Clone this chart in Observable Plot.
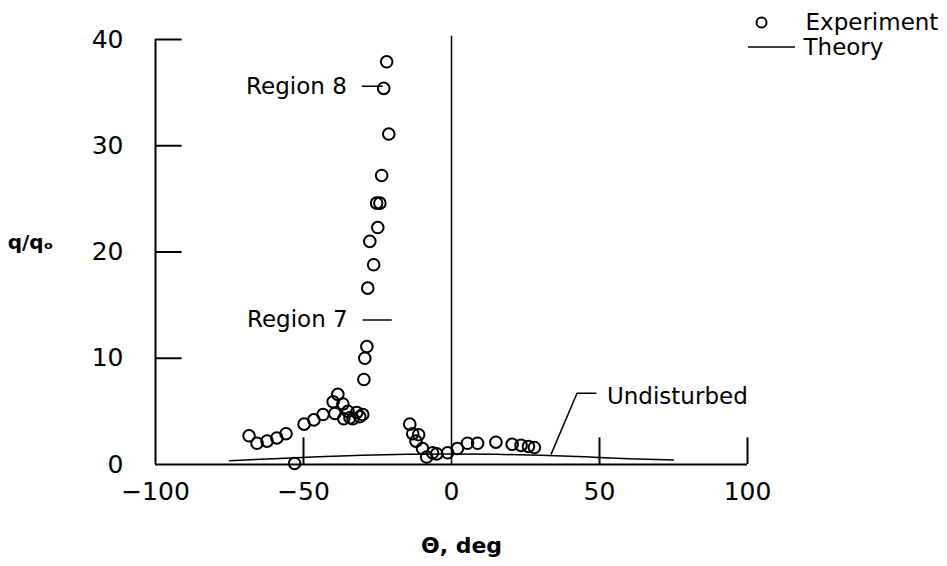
<!DOCTYPE html>
<html><head><meta charset="utf-8">
<script src="https://cdn.jsdelivr.net/npm/d3@7"></script>
<script src="https://cdn.jsdelivr.net/npm/@observablehq/plot@0.6"></script>
<style>body{margin:0;background:#fff}</style>
</head><body><div id="chart"></div>
<script>
// Experiment (open circles): theta (deg), q/qo
const expTheta = [-68.4,-65.7,-62.3,-59.0,-55.9,-53.0,-49.8,-46.5,-43.4,-40.0,-38.4,-39.4,-36.7,-36.4,-35.0,-34.3,-33.3,-32.0,-31.0,-30.0,-29.6,-29.3,-28.6,-28.3,-26.3,-27.6,-24.9,-25.3,-24.2,-23.6,-21.2,-22.9,-21.9,-14.1,-13.1,-11.1,-12.0,-9.8,-8.4,-6.4,-5.0,-1.3,2.0,5.4,8.8,15.0,20.5,23.5,26.0,28.0];
const expQ     = [2.7,2.0,2.2,2.5,2.9,0.1,3.8,4.2,4.7,5.9,6.6,4.8,5.7,4.3,5.0,4.4,4.3,4.9,4.5,4.7,8.0,10.0,11.1,16.6,18.8,21.0,22.3,24.6,24.6,27.2,31.1,35.4,37.9,3.8,2.9,2.8,2.2,1.5,0.7,1.1,1.0,1.1,1.5,2.0,2.0,2.1,1.9,1.8,1.7,1.6];
// Theory (solid line)
const theoryTheta = [-75,-60,-45,-30,-15,0,15,30,45,60,75];
const theoryQ     = [0.35,0.55,0.72,0.86,0.96,1.0,0.96,0.86,0.72,0.55,0.42];
// Axis ticks
const xTicks = [-100,-50,0,50,100];
const yTicks = [0,10,20,30,40];
// Annotations
const regionLabels = ["Region 8","Region 7"];
const regionQ = [35.6,13.6];
const regionTheta1 = [-30.3,-30.0];
const regionTheta2 = [-23.2,-20.2];
const undistTheta = [33.7,42.4,48.8];
const undistQ = [1.0,6.7,6.7];

const F = "DejaVu Sans, sans-serif";
const expData = expTheta.map((t,i)=>({t, q: expQ[i]}));
const theoryData = theoryTheta.map((t,i)=>({t, q: theoryQ[i]}));
const regions = regionLabels.map((s,i)=>({s, q: regionQ[i], t1: regionTheta1[i], t2: regionTheta2[i]}));
const undist = undistTheta.map((t,i)=>({t, q: undistQ[i]}));
const tickLen = 9;      // in theta units (y-axis inward ticks)
const upTick = 2.5;     // in q units (x-axis upward ticks)
const fmt = d => d < 0 ? "\u2212" + Math.abs(d) : String(d);

const chart = Plot.plot({
  width: 947, height: 566,
  marginLeft: 155, marginRight: 200, marginTop: 39, marginBottom: 102,
  x: {domain: [-100,100]},
  y: {domain: [0,40]},
  axis: null,
  style: {background: "#fff", color: "#000", fontFamily: F},
  marks: [
    // frame
    Plot.ruleX([-100], {y1: 0, y2: 40, strokeWidth: 2}),
    Plot.ruleY([0], {x1: -100, x2: 100, strokeWidth: 2}),
    Plot.ruleX([0], {y1: 0, y2: 40.3, strokeWidth: 1.5}),
    Plot.ruleY(yTicks.filter(d=>d>0), {y: d=>d, x1: -100, x2: -100 + tickLen, strokeWidth: 2}),
    Plot.ruleX(xTicks.filter(d=>d!==0 && d!==-100), {x: d=>d, y1: 0, y2: upTick, strokeWidth: 2}),
    // tick labels
    Plot.text(yTicks, {x: -100, y: d=>d, text: fmt, dx: -32, textAnchor: "end", fontSize: 25, fontFamily: F, letterSpacing: 3}),
    Plot.text(xTicks, {x: d=>d, y: 0, text: fmt, dy: 27, fontSize: 25, fontFamily: F, letterSpacing: 3}),
    // axis titles
    Plot.text(["q/q\u2092"], {frameAnchor: "left", lineAnchor: "middle", dx: -125, dy: -9, fontSize: 20, fontWeight: "bold", fontFamily: F, textAnchor: "middle"}),
    Plot.text(["\u0398, deg"], {x: 0, y: 0, dy: 81, dx: 10, fontSize: 22, fontWeight: "bold", fontFamily: F}),
    // theory
    Plot.line(theoryData, {x: "t", y: "q", stroke: "#000", strokeWidth: 1.5, curve: "natural"}),
    // experiment
    Plot.dot(expData, {x: "t", y: "q", r: 5.8, stroke: "#000", strokeWidth: 2, fill: "none"}),
    // region annotations
    Plot.link(regions, {x1: "t1", x2: "t2", y1: "q", y2: "q", strokeWidth: 1.5}),
    Plot.text(regions, {x: "t1", y: "q", text: "s", dx: -15, textAnchor: "end", fontSize: 23, fontFamily: F}),
    // undisturbed annotation
    Plot.line(undist, {x: "t", y: "q", strokeWidth: 1.5}),
    Plot.text(["Undisturbed"], {x: undistTheta[2], y: undistQ[2], dx: 11, dy: 3, textAnchor: "start", fontSize: 23, fontFamily: F}),
    // legend (outside the frame, top right)
    Plot.dot([0], {frameAnchor: "top-right", dx: 14, dy: -17, r: 5, stroke: "#000", strokeWidth: 2, fill: "none"}),
    Plot.text(["Experiment"], {frameAnchor: "top-right", lineAnchor: "middle", dx: 58, dy: -17, textAnchor: "start", fontSize: 23, fontFamily: F}),
    Plot.text(["Theory"], {frameAnchor: "top-right", lineAnchor: "middle", dx: 56, dy: 8, textAnchor: "start", fontSize: 23, fontFamily: F}),
    Plot.ruleY([0], {frameAnchor: "top-right", y: null, x1: null, x2: null, dy: 8, strokeWidth: 1.5, render: (index, scales, values, dims, ctx) => {
      const g = d3.create("svg:line")
        .attr("x1", dims.width - dims.marginRight + 1)
        .attr("x2", dims.width - dims.marginRight + 48)
        .attr("y1", dims.marginTop + 8).attr("y2", dims.marginTop + 8)
        .attr("stroke", "#000").attr("stroke-width", 1.5);
      return g.node();
    }})
  ]
});
document.getElementById("chart").appendChild(chart);
</script>
</body></html>
